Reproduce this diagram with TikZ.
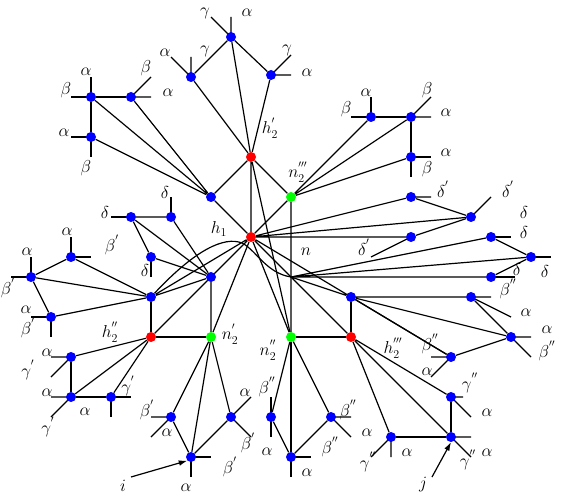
\documentclass[tikz,border=0pt]{standalone}
\usepackage{tikz}
\usetikzlibrary{arrows.meta,backgrounds}
\definecolor{dotblue}{rgb}{0,0,1}
\definecolor{dotred}{rgb}{1,0,0}
\definecolor{dotgreen}{rgb}{0,1,0}
\tikzset{
  vtx/.style={circle, inner sep=0pt, minimum size=10pt},
  bvtx/.style={vtx, fill=dotblue},
  rvtx/.style={vtx, fill=dotred},
  gvtx/.style={vtx, fill=dotgreen},
  link/.style={line width=1.2pt, draw=black},
  heavy/.style={line width=2.1pt, draw=black},
  lbl/.style={font=\LARGE, inner sep=0pt},
  pointer/.style={-{Latex[length=3mm,width=2mm]}, line width=1.2pt}
}

\begin{document}
\begin{tikzpicture}[x=1pt, y=-1pt]
    \useasboundingbox (0,0) rectangle (561,497);

    % h and n vertices
    \node[rvtx] (h2a) at (251,157) {};
    \node[rvtx] (h1)  at (251,237) {};
    \node[rvtx] (h2b) at (151,337) {};
    \node[rvtx] (h2c) at (351,337) {};
    \node[gvtx] (n2c) at (291,197) {};
    \node[gvtx] (n2a) at (211,337) {};
    \node[gvtx] (n2b) at (291,337) {};
    \coordinate (n) at (291,277);

    % blue vertices
    \node[bvtx] (t1) at (231,37) {};
    \node[bvtx] (t2) at (191,77) {};
    \node[bvtx] (t3) at (271,75) {};
    \node[bvtx] (u1) at (211,197) {};
    \node[bvtx] (a1) at (91,97) {};
    \node[bvtx] (a2) at (131,97) {};
    \node[bvtx] (a3) at (91,137) {};
    \node[bvtx] (b1) at (371,117) {};
    \node[bvtx] (b2) at (411,117) {};
    \node[bvtx] (b3) at (411,157) {};
    \node[bvtx] (c1) at (411,197) {};
    \node[bvtx] (c2) at (471,217) {};
    \node[bvtx] (c3) at (411,237) {};
    \node[bvtx] (d1) at (491,237) {};
    \node[bvtx] (d2) at (531,257) {};
    \node[bvtx] (d3) at (491,277) {};
    \node[bvtx] (e0) at (351,297) {};
    \node[bvtx] (e1) at (471,297) {};
    \node[bvtx] (e2) at (511,337) {};
    \node[bvtx] (e3) at (451,357) {};
    \node[bvtx] (f1) at (451,397) {};
    \node[bvtx] (f2) at (451,437) {};
    \node[bvtx] (f3) at (391,437) {};
    \node[bvtx] (g1) at (271,417) {};
    \node[bvtx] (g2) at (331,417) {};
    \node[bvtx] (g3) at (291,457) {};
    \node[bvtx] (k1) at (171,417) {};
    \node[bvtx] (k2) at (231,417) {};
    \node[bvtx] (k3) at (191,457) {};
    \node[bvtx] (m1) at (71,357) {};
    \node[bvtx] (m2) at (71,397) {};
    \node[bvtx] (m3) at (111,397) {};
    \node[bvtx] (p0) at (151,297) {};
    \node[bvtx] (p1) at (31,277) {};
    \node[bvtx] (p2) at (71,257) {};
    \node[bvtx] (p3) at (51,317) {};
    \node[bvtx] (q0) at (211,277) {};
    \node[bvtx] (q1) at (131,217) {};
    \node[bvtx] (q2) at (171,217) {};
    \node[bvtx] (q3) at (151,257) {};

    % labels
    \foreach \px/\py/\txt [count=\k] in {
        205/13/\gamma, 247/13/\alpha, 165/53/\alpha, 205/51/\gamma, 287/50/\gamma,
        307/73/\alpha, 270/128/h^{'}_2,
        86/72/\alpha, 66/90/\beta, 146/68/\beta, 168/93/\alpha, 64/133/\alpha, 86/168/\beta,
        366/93/\alpha, 346/109/\beta, 427/90/\beta, 446/113/\alpha, 446/153/\alpha, 427/169/\beta,
        298/172/n^{'''}_2, 219/229/h_1, 306/252/n,
        443/189/\delta^{'}, 508/189/\delta^{'}, 524/212/\delta, 524/232/\delta, 545/271/\delta,
        364/247/\delta^{'}, 517/269/\delta, 508/289/\beta^{''},
        526/313/\alpha, 547/330/\alpha, 547/351/\beta^{''}, 430/344/\beta^{''}, 393/348/h^{'''}_2,
        427/372/\alpha, 470/383/\gamma^{''}, 487/413/\alpha, 487/453/\alpha, 468/460/\gamma^{''},
        407/453/\alpha, 368/462/\gamma^{''}, 423/485/j,
        268/350/n^{''}_2, 267/387/\beta^{''}, 348/410/\beta^{''}, 367/433/\alpha, 330/447/\beta^{''},
        267/452/\alpha, 307/473/\alpha,
        47/353/\alpha, 28/370/\gamma^{'}, 47/393/\alpha, 48/427/\gamma^{'}, 85/412/\alpha,
        128/386/\gamma^{'}, 147/410/\beta^{'}, 167/433/\alpha, 245/393/\alpha, 248/443/\beta^{'},
        230/467/\beta^{'}, 123/486/i, 186/488/\alpha,
        110/332/h^{''}_2, 230/334/n^{'}_2,
        105/212/\delta, 165/192/\delta, 67/232/\alpha, 112/245/\beta^{'}, 27/252/\alpha,
        8/288/\beta^{'}, 26/310/\alpha, 28/328/\beta^{'}, 145/270/\delta}
        \node[lbl] (lab\k) at (\px,\py) {$\txt$};

    \begin{scope}[on background layer]
    % top cluster
    \draw[link] (t2) -- (t1) -- (t3);
    \draw[link] (t1) -- (h2a) (t2) -- (h2a) (t3) -- (h2a);
    \draw[link] (t1.center) -- ++(0,-20) (t1.center) -- ++(-20,-20);
    \draw[link] (t2.center) -- ++(0,-20) (t2.center) -- ++(-20,-20);
    \draw[link] (t3.center) -- ++(20,0) (t3.center) -- ++(20,-20);

    % upper left cluster
    \draw[link] (a1.center) -- ++(-20,0) (a1.center) -- ++(0,-20);
    \draw[link] (a1) -- (a2) (a1) -- (a3);
    \draw[link] (a2.center) -- ++(20,0) (a2.center) -- ++(20,-20);
    \draw[link] (a3.center) -- ++(-20,0) (a3.center) -- ++(0,20);
    \draw[link] (a1) -- (u1) (a2) -- (u1) (a3) -- (u1);
    \draw[link] (u1) -- (h2a) (u1) -- (h1);

    % around h1
    \draw[link] (h2a) -- (h1) (h2a) -- (n2c) (h2a) -- (n2b);
    \draw[link] (n2c) -- (h1) (n2c) -- (n2b);

    % upper right cluster
    \draw[link] (b1.center) -- ++(-20,0) (b1.center) -- ++(0,-20);
    \draw[link] (b1) -- (b2) (b2) -- (b3);
    \draw[link] (b2.center) -- ++(20,0) (b2.center) -- ++(20,-20);
    \draw[link] (b3.center) -- ++(20,0) (b3.center) -- ++(0,20);
    \draw[link] (n2c) -- (b1) (n2c) -- (b2) (n2c) -- (b3);

    % delta cluster
    \draw[link] (c1) -- (c2) (c3) -- (c2);
    \draw[link] (c1.center) -- ++(20,0) (c2.center) -- ++(20,-20) (c3.center) -- ++(-40,20);
    \draw[link] (h1) -- (c1) (h1) -- (c2) (h1) -- (c3);
    \draw[link] (d1) -- (d2) -- (d3);
    \draw[link] (d1.center) -- ++(20,0) (d2.center) -- ++(20,0) (d3.center) -- ++(24,0);
    \draw[link] (n) -- (d1) (n) -- (d2) (n) -- (d3);

    % right lower cluster
    \draw[link] (h1) -- (e0) (n) -- (e0) (h1) -- (e3) (h1) -- (n2b) (h1) -- (h2c);
    \draw[link] (e0) -- (e1) (e0) -- (e2) (e0) -- (e3) (e3) -- (e2) (e1) -- (e2);
    \draw[link] (e1.center) -- ++(20,0) (e1.center) -- ++(40,20);
    \draw[link] (e2.center) -- ++(20,0) (e2.center) -- ++(20,20);
    \draw[link] (e3.center) -- ++(-20,0) (e3.center) -- ++(-20,20);
    \draw[heavy] (h2c) -- (e0) (n2b) -- (h2c);

    \draw[link] (h2c) -- (f1) (h2c) -- (f2) (h2c) -- (f3);
    \draw[link] (f1) -- (f2) (f3) -- (f2);
    \draw[link] (f1.center) -- ++(12,0) (f1.center) -- ++(20,20);
    \draw[link] (f2.center) -- ++(20,0) (f2.center) -- ++(20,20);
    \draw[link] (f3.center) -- ++(0,20) (f3.center) -- ++(-20,20);

    % bottom middle cluster
    \draw[heavy] (n2b) -- (g3);
    \draw[link] (n2b) -- (g1) (n2b) -- (g2) (g1) -- (g3) (g2) -- (g3);
    \draw[link] (g1.center) -- ++(0,-20) (g1.center) -- ++(0,20);
    \draw[link] (g2.center) -- ++(20,0) (g2.center) -- ++(20,20);
    \draw[link] (g3.center) -- ++(20,0) (g3.center) -- ++(0,20);

    % bottom left cluster
    \draw[link] (n2a) -- (k1) (n2a) -- (k2) (n2a) -- (k3) (k1) -- (k3) (k2) -- (k3);
    \draw[link] (k1.center) -- ++(-20,0) (k1.center) -- ++(-20,20);
    \draw[link] (k2.center) -- ++(20,-20) (k2.center) -- ++(20,20);
    \draw[heavy] (k3.center) -- ++(20,0);
    \draw[link] (k3.center) -- ++(0,20);

    % left bottom cluster
    \draw[heavy] (h2b) -- (n2a) (h2b) -- (p0);
    \draw[link] (h2b) -- (m1) (h2b) -- (m2) (h2b) -- (m3);
    \draw[link] (m1) -- (m2) (m2) -- (m3);
    \draw[link] (m1.center) -- ++(-20,0) (m1.center) -- ++(-20,20);
    \draw[link] (m2.center) -- ++(-20,0) (m2.center) -- ++(-20,20);
    \draw[link] (m3.center) -- ++(20,0) (m3.center) -- ++(0,20);

    % left middle cluster
    \draw[link] (p1) -- (p2) (p1) -- (p3) (p1) -- (p0) (p2) -- (p0) (p3) -- (p0);
    \draw[link] (p1.center) -- ++(-20,0) (p1.center) -- ++(0,-20);
    \draw[link] (p2.center) -- ++(0,-20) (p2.center) -- ++(20,0);
    \draw[link] (p3.center) -- ++(-20,0) (p3.center) -- ++(0,20);
    \draw[link] (q1) -- (q2) (q1) -- (q3) (q1) -- (q0) (q2) -- (q0) (q3) -- (q0);
    \draw[link] (q1.center) -- ++(-20,0) (q2.center) -- ++(0,-20) (q3.center) -- ++(0,20);
    \draw[link] (q0) -- (n2a) (p0) -- (q0) (p0) -- (h1) (h2b) -- (h1) (h2b) -- (q0) (n2a) -- (h1);
    \draw[link] (p0) .. controls (195,250) and (224,236) .. (242,243)
                     .. controls (256,250) and (266,273) .. (n);
    \end{scope}

    % pointers
    \coordinate (iend) at (131,477);
    \coordinate (jend) at (432,477);
    \draw[pointer] (iend) -- (k3.south west);
    \draw[pointer] (jend) -- (f2.south);
\end{tikzpicture}
\end{document}
